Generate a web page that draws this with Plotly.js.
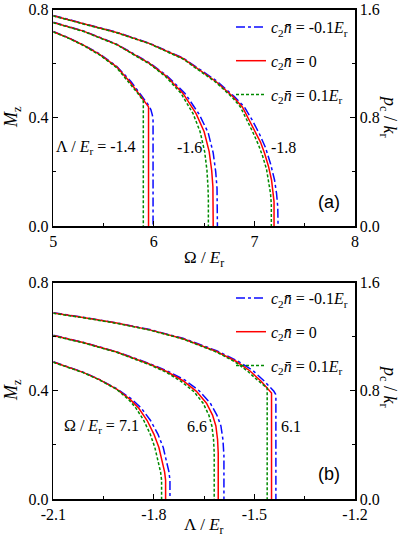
<!DOCTYPE html>
<html>
<head>
<meta charset="utf-8">
<script src="https://cdn.plot.ly/plotly-3.0.1.min.js"></script>
<style>
  body { margin: 0; background: #fff; }
  #chart { width: 409px; height: 546px; }
</style>
</head>
<body>
<div id="chart"></div>
<script>
// Panel (a): M_z vs Omega/E_r for three Lambda values, each with three c2*n values
// red = c2n 0, blue = -0.1 Er, green = +0.1 Er

// Lambda = -1.4
const omA14_red = [5.0, 5.15, 5.3, 5.46, 5.63, 5.76, 5.86, 5.93, 5.947, 5.947];
const mA14_red = [0.718, 0.695, 0.668, 0.634, 0.588, 0.533, 0.484, 0.452, 0.44, 0.0];
const omA14_blue = [5.0, 5.15, 5.3, 5.46, 5.63, 5.77, 5.87, 5.94, 5.97, 5.985, 5.992, 5.992];
const mA14_blue = [0.719, 0.696, 0.669, 0.636, 0.59, 0.535, 0.485, 0.45, 0.43, 0.41, 0.39, 0.0];
const omA14_green = [5.0, 5.15, 5.3, 5.46, 5.63, 5.75, 5.84, 5.885, 5.895, 5.895];
const mA14_green = [0.717, 0.694, 0.667, 0.632, 0.585, 0.533, 0.49, 0.468, 0.46, 0.0];

// Lambda = -1.6
const omA16_red = [5.0, 5.3, 5.63, 5.96, 6.125, 6.29, 6.42, 6.5, 6.55, 6.575, 6.587, 6.59, 6.59];
const mA16_red = [0.752, 0.72, 0.671, 0.60, 0.553, 0.49, 0.415, 0.348, 0.275, 0.205, 0.145, 0.1, 0.0];
const omA16_blue = [5.0, 5.3, 5.63, 5.96, 6.13, 6.31, 6.45, 6.54, 6.59, 6.615, 6.628, 6.632, 6.632];
const mA16_blue = [0.753, 0.721, 0.672, 0.602, 0.555, 0.49, 0.413, 0.345, 0.27, 0.2, 0.14, 0.09, 0.0];
const omA16_green = [5.0, 5.3, 5.63, 5.96, 6.12, 6.27, 6.39, 6.46, 6.505, 6.528, 6.538, 6.542, 6.542];
const mA16_green = [0.751, 0.719, 0.67, 0.598, 0.551, 0.49, 0.415, 0.348, 0.275, 0.205, 0.145, 0.1, 0.0];

// Lambda = -1.8
const omA18_red = [5.0, 5.3, 5.63, 5.96, 6.29, 6.62, 6.79, 6.88, 6.95, 7.0, 7.06, 7.1, 7.14, 7.17, 7.185, 7.195, 7.195];
const mA18_red = [0.777, 0.748, 0.715, 0.674, 0.619, 0.533, 0.477, 0.44, 0.39, 0.35, 0.31, 0.27, 0.22, 0.17, 0.13, 0.09, 0.0];
const omA18_blue = [5.0, 5.3, 5.63, 5.96, 6.29, 6.62, 6.8, 6.9, 6.98, 7.05, 7.11, 7.16, 7.2, 7.22, 7.232, 7.235];
const mA18_blue = [0.778, 0.749, 0.716, 0.675, 0.621, 0.537, 0.478, 0.44, 0.39, 0.34, 0.29, 0.23, 0.17, 0.12, 0.07, 0.0];
const omA18_green = [5.0, 5.3, 5.63, 5.96, 6.29, 6.62, 6.78, 6.86, 6.93, 6.98, 7.04, 7.08, 7.12, 7.145, 7.16, 7.168, 7.168];
const mA18_green = [0.776, 0.747, 0.714, 0.673, 0.617, 0.53, 0.475, 0.44, 0.39, 0.35, 0.30, 0.26, 0.21, 0.16, 0.12, 0.08, 0.0];

// Panel (b): M_z vs Lambda/E_r for three Omega values

// Omega = 6.1
const laB61_red = [-2.1, -2.011, -1.911, -1.812, -1.713, -1.613, -1.554, -1.514, -1.48, -1.462, -1.452, -1.449, -1.449];
const mB61_red = [0.687, 0.671, 0.65, 0.625, 0.592, 0.545, 0.508, 0.474, 0.435, 0.412, 0.398, 0.392, 0.0];
const laB61_blue = [-2.1, -2.011, -1.911, -1.812, -1.713, -1.613, -1.55, -1.505, -1.47, -1.452, -1.442, -1.437, -1.436, -1.436];
const mB61_blue = [0.688, 0.672, 0.651, 0.626, 0.594, 0.548, 0.51, 0.475, 0.435, 0.412, 0.398, 0.388, 0.38, 0.0];
const laB61_green = [-2.1, -2.011, -1.911, -1.812, -1.713, -1.613, -1.557, -1.52, -1.49, -1.474, -1.465, -1.462, -1.462];
const mB61_green = [0.686, 0.67, 0.649, 0.624, 0.591, 0.543, 0.506, 0.472, 0.438, 0.42, 0.412, 0.41, 0.0];

// Omega = 6.6
const laB66_red = [-2.1, -2.011, -1.911, -1.812, -1.762, -1.713, -1.673, -1.643, -1.625, -1.615, -1.61, -1.608, -1.608];
const mB66_red = [0.604, 0.578, 0.543, 0.498, 0.471, 0.437, 0.398, 0.354, 0.31, 0.27, 0.22, 0.17, 0.0];
const laB66_blue = [-2.1, -2.011, -1.911, -1.812, -1.76, -1.708, -1.665, -1.632, -1.612, -1.6, -1.594, -1.591, -1.591];
const mB66_blue = [0.605, 0.579, 0.544, 0.5, 0.473, 0.44, 0.4, 0.355, 0.31, 0.27, 0.22, 0.16, 0.0];
const laB66_green = [-2.1, -2.011, -1.911, -1.812, -1.764, -1.718, -1.68, -1.653, -1.636, -1.627, -1.622, -1.62, -1.62];
const mB66_green = [0.603, 0.577, 0.542, 0.496, 0.469, 0.434, 0.396, 0.354, 0.31, 0.27, 0.22, 0.17, 0.0];

// Omega = 7.1
const laB71_red = [-2.1, -2.011, -1.961, -1.911, -1.87, -1.845, -1.82, -1.80, -1.785, -1.775, -1.768, -1.765, -1.765];
const mB71_red = [0.506, 0.468, 0.44, 0.406, 0.367, 0.335, 0.29, 0.24, 0.19, 0.14, 0.1, 0.07, 0.0];
const laB71_blue = [-2.1, -2.011, -1.961, -1.911, -1.865, -1.837, -1.81, -1.788, -1.772, -1.762, -1.755, -1.752, -1.752];
const mB71_blue = [0.507, 0.469, 0.441, 0.408, 0.368, 0.335, 0.29, 0.24, 0.19, 0.14, 0.1, 0.07, 0.0];
const laB71_green = [-2.1, -2.011, -1.961, -1.911, -1.875, -1.853, -1.83, -1.811, -1.797, -1.787, -1.78, -1.777, -1.777];
const mB71_green = [0.505, 0.467, 0.439, 0.405, 0.367, 0.335, 0.29, 0.24, 0.19, 0.14, 0.1, 0.07, 0.0];

// Tick labels (reference uses plain hyphen minus)
const xTicksA = [5, 6, 7, 8];
const xTickTextA = ['5', '6', '7', '8'];
const xTicksB = [-2.1, -1.8, -1.5, -1.2];
const xTickTextB = ['-2.1', '-1.8', '-1.5', '-1.2'];

const LEG_NAMES = [
  '<i>c</i><sub>2</sub><i>n\u0304</i> = -0.1<i>E</i><sub>r</sub>',
  '<i>c</i><sub>2</sub><i>n\u0304</i> = 0',
  '<i>c</i><sub>2</sub><i>n\u0304</i> = 0.1<i>E</i><sub>r</sub>'
];

const SERIF = '"Liberation Serif", "Times New Roman", serif';
const SANS = '"Liberation Sans", Arial, sans-serif';
const BLUE = '#0a0aff';
const RED = '#ff0000';
const GREEN = '#008a00';

// helper: one line trace
function line(x, y, kind, xa, ya, legend, show) {
  const style = {
    blue: { color: BLUE, dash: 'dashdot', name: LEG_NAMES[0] },
    red: { color: RED, dash: 'solid', name: LEG_NAMES[1] },
    green: { color: GREEN, dash: '3px,2px', name: LEG_NAMES[2] }
  }[kind];
  return {
    x: x, y: y, xaxis: xa, yaxis: ya,
    mode: 'lines', name: style.name,
    line: { color: style.color, dash: style.dash, width: 1.5 },
    legend: legend, legendgroup: legend + kind, showlegend: show, hoverinfo: 'skip'
  };
}

// draw order: blue, red, green (green sits on top in the reference)
const traces = [
  line(omA14_blue, mA14_blue, 'blue', 'x', 'y', 'legend', true),
  line(omA16_blue, mA16_blue, 'blue', 'x', 'y', 'legend', false),
  line(omA18_blue, mA18_blue, 'blue', 'x', 'y', 'legend', false),
  line(omA14_red, mA14_red, 'red', 'x', 'y', 'legend', true),
  line(omA16_red, mA16_red, 'red', 'x', 'y', 'legend', false),
  line(omA18_red, mA18_red, 'red', 'x', 'y', 'legend', false),
  line(omA14_green, mA14_green, 'green', 'x', 'y', 'legend', true),
  line(omA16_green, mA16_green, 'green', 'x', 'y', 'legend', false),
  line(omA18_green, mA18_green, 'green', 'x', 'y', 'legend', false),

  line(laB61_blue, mB61_blue, 'blue', 'x2', 'y2', 'legend2', true),
  line(laB66_blue, mB66_blue, 'blue', 'x2', 'y2', 'legend2', false),
  line(laB71_blue, mB71_blue, 'blue', 'x2', 'y2', 'legend2', false),
  line(laB61_red, mB61_red, 'red', 'x2', 'y2', 'legend2', true),
  line(laB66_red, mB66_red, 'red', 'x2', 'y2', 'legend2', false),
  line(laB71_red, mB71_red, 'red', 'x2', 'y2', 'legend2', false),
  line(laB61_green, mB61_green, 'green', 'x2', 'y2', 'legend2', true),
  line(laB66_green, mB66_green, 'green', 'x2', 'y2', 'legend2', false),
  line(laB71_green, mB71_green, 'green', 'x2', 'y2', 'legend2', false),

  // empty traces so the right-hand p_c/k_r axes get drawn
  { x: [null], y: [null], xaxis: 'x', yaxis: 'y3', mode: 'lines', showlegend: false, hoverinfo: 'skip' },
  { x: [null], y: [null], xaxis: 'x2', yaxis: 'y4', mode: 'lines', showlegend: false, hoverinfo: 'skip' }
];

const W = 409, H = 546;
const xDom = [53.3 / W, 355 / W];
const yDomA = [1 - 226 / H, 1 - 9.5 / H];
const yDomB = [1 - 499 / H, 1 - 282.5 / H];

const tickFont = { family: SERIF, size: 16, color: '#000' };
const minorTicks = { ticks: 'inside', ticklen: 3, tickwidth: 1.2, tickcolor: '#000' };
const baseAxis = {
  showgrid: false, zeroline: false, showline: true, linecolor: '#000', linewidth: 1.5,
  ticks: 'inside', ticklen: 5, tickwidth: 1.2, tickcolor: '#000', tickfont: tickFont
};

const legendBase = {
  xanchor: 'left', yanchor: 'top', bgcolor: 'rgba(0,0,0,0)', borderwidth: 0,
  itemwidth: 30, tracegroupgap: 10,
  font: { family: SERIF, size: 16, color: '#000' }
};

function ann(xref, yref, x, y, text, size, extra) {
  return Object.assign({
    xref: xref, yref: yref, x: x, y: y, text: text, showarrow: false,
    xanchor: 'center', yanchor: 'middle', font: { family: SERIF, size: size, color: '#000' }
  }, extra || {});
}

const layout = {
  width: W, height: H,
  margin: { l: 0, r: 0, t: 0, b: 0 },
  paper_bgcolor: '#fff', plot_bgcolor: '#fff',
  font: { family: SERIF, color: '#000' },
  xaxis: Object.assign({}, baseAxis, {
    domain: xDom, anchor: 'y', range: [5, 8], mirror: true,
    tickvals: xTicksA, ticktext: xTickTextA,
    minor: Object.assign({ dtick: 0.5, tick0: 5 }, minorTicks)
  }),
  yaxis: Object.assign({}, baseAxis, {
    domain: yDomA, anchor: 'x', range: [0, 0.8], dtick: 0.4, tick0: 0, tickformat: '.1f',
    minor: Object.assign({ dtick: 0.2 }, minorTicks)
  }),
  yaxis3: Object.assign({}, baseAxis, {
    overlaying: 'y', side: 'right', anchor: 'x', range: [0, 1.6], dtick: 0.8, tick0: 0, tickformat: '.1f',
    minor: Object.assign({ dtick: 0.4 }, minorTicks)
  }),
  xaxis2: Object.assign({}, baseAxis, {
    domain: xDom, anchor: 'y2', range: [-2.1, -1.2], mirror: true,
    tickvals: xTicksB, ticktext: xTickTextB,
    minor: Object.assign({ dtick: 0.15, tick0: -2.1 }, minorTicks)
  }),
  yaxis2: Object.assign({}, baseAxis, {
    domain: yDomB, anchor: 'x2', range: [0, 0.8], dtick: 0.4, tick0: 0, tickformat: '.1f',
    minor: Object.assign({ dtick: 0.2 }, minorTicks)
  }),
  yaxis4: Object.assign({}, baseAxis, {
    overlaying: 'y2', side: 'right', anchor: 'x2', range: [0, 1.6], dtick: 0.8, tick0: 0, tickformat: '.1f',
    minor: Object.assign({ dtick: 0.4 }, minorTicks)
  }),
  legend: Object.assign({ x: 231 / W, y: 1 - 10 / H }, legendBase),
  legend2: Object.assign({ x: 231 / W, y: 1 - 281 / H }, legendBase),
  annotations: [
    // axis titles
    ann('paper', 'paper', 12 / W, 1 - 117 / H, '<i>M</i><sub>z</sub>', 18, { textangle: -90 }),
    ann('paper', 'paper', 12 / W, 1 - 390 / H, '<i>M</i><sub>z</sub>', 18, { textangle: -90 }),
    ann('paper', 'paper', 389 / W, 1 - 117 / H, '<i>p</i><sub>c</sub> / <i>k</i><sub>r</sub>', 18, { textangle: 90 }),
    ann('paper', 'paper', 389 / W, 1 - 387 / H, '<i>p</i><sub>c</sub> / <i>k</i><sub>r</sub>', 18, { textangle: 90 }),
    ann('paper', 'paper', 204 / W, 1 - 259 / H, '\u03A9 / <i>E</i><sub>r</sub>', 17),
    ann('paper', 'paper', 204 / W, 1 - 526 / H, '\u039B / <i>E</i><sub>r</sub>', 17),
    // curve labels panel (a)
    ann('x', 'y', 5.42, 0.29, '\u039B / <i>E</i><sub>r</sub> = -1.4', 16),
    ann('x', 'y', 6.35, 0.29, '-1.6', 16),
    ann('x', 'y', 7.29, 0.29, '-1.8', 16),
    ann('x', 'y', 7.74, 0.09, '(a)', 18, { font: { family: SANS, size: 18, color: '#000' } }),
    // curve labels panel (b)
    ann('x2', 'y2', -1.956, 0.267, '\u03A9 / <i>E</i><sub>r</sub> = 7.1', 16),
    ann('x2', 'y2', -1.670, 0.267, '6.6', 16),
    ann('x2', 'y2', -1.392, 0.267, '6.1', 16),
    ann('x2', 'y2', -1.277, 0.092, '(b)', 18, { font: { family: SANS, size: 18, color: '#000' } })
  ]
};

Plotly.newPlot('chart', traces, layout, { staticPlot: true });
</script>
</body>
</html>
